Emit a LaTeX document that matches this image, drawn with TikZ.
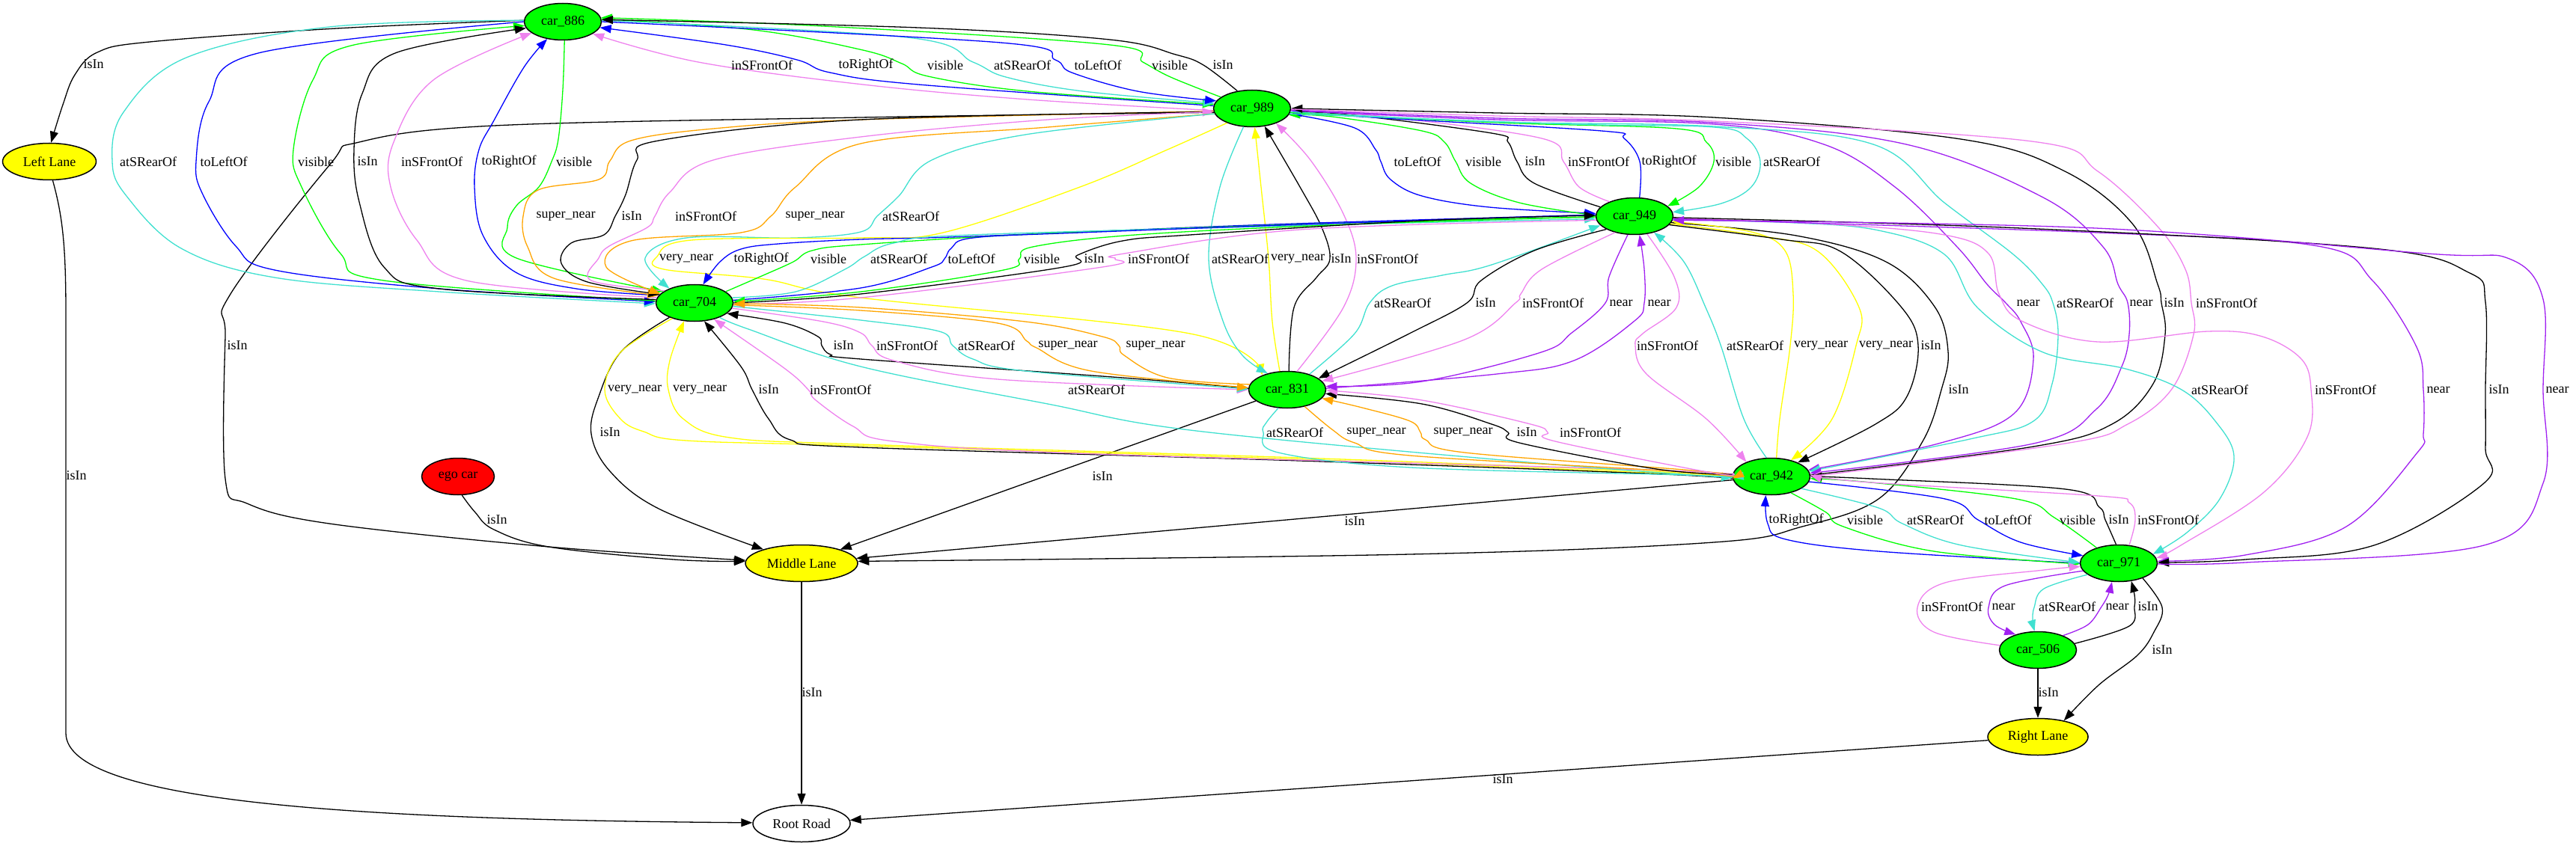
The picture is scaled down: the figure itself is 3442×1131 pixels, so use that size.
\documentclass[tikz,border=0pt]{standalone}
\usepackage{fontspec}
\setmainfont{Liberation Serif}
\usetikzlibrary{arrows.meta,shapes.geometric}
\definecolor{cG}{HTML}{00FF00}
\definecolor{cV}{HTML}{EE82EE}
\definecolor{cT}{HTML}{40E0D0}
\definecolor{cB}{HTML}{0000FF}
\definecolor{cO}{HTML}{FFA500}
\definecolor{cY}{HTML}{FFFF00}
\definecolor{cP}{HTML}{A020F0}
\definecolor{cR}{HTML}{FF0000}
\newcommand\lblfont{\fontsize{18}{20}\selectfont}
\newcommand\myedge[2]{\draw[ed,#1] plot[smooth,tension=0.6] coordinates {#2};}
\newcommand\mylab[3]{\node[lb] (#1) at (#2) {#3};}
\tikzset{
  basenode/.style={ellipse, draw=black, line width=1.5pt, inner sep=0pt, minimum height=49pt, font=\lblfont},
  car/.style={basenode, fill=cG, minimum width=103pt},
  lane/.style={basenode, fill=cY},
  ed/.style={line width=1.3pt, -{Triangle[length=15pt,width=11pt]}},
  lb/.style={font=\lblfont, inner sep=0pt, text=black}
}
\begin{document}
\begin{tikzpicture}[x=1pt,y=-1pt]
\useasboundingbox (0,0) rectangle (3442,1131);
% nodes
\node[car] (n886) at (752,29) {car\_886};
\node[car] (n989) at (1673,145) {car\_989};
\node[car] (n949) at (2184,289) {car\_949};
\node[car] (n704) at (928,405) {car\_704};
\node[car] (n831) at (1720,521) {car\_831};
\node[car] (n942) at (2367,637) {car\_942};
\node[car] (n971) at (2831,753) {car\_971};
\node[car] (n506) at (2723,869) {car\_506};
\node[lane, minimum width=125pt] (nLL) at (66,216) {Left Lane};
\node[lane, minimum width=150pt] (nML) at (1071,753) {Middle Lane};
\node[lane, minimum width=134pt] (nRL) at (2723,985) {Right Lane};
\node[basenode, fill=white, minimum width=130pt] (nRR) at (1071,1101) {Root Road};
\node[basenode, fill=cR, minimum width=97pt] (nego) at (612,637) {ego car};

% lanes and road
\myedge{black}{(n886.178) (450,38) (200,56) (130,70) (100,100) (84,140) (nLL.85)}
\draw[ed,black] (nLL.-80) .. controls (84,290) and (88,330) .. (88,420) -- (88,980) .. controls (88,1075) and (500,1096) .. (nRR.179);
\myedge{black}{(n989.186) (1150,157) (660,168) (480,190) (440,221) (308,393) (301,450) (301,640) (330,673) (440,700) (733,731) (nML.177)}
\myedge{black}{(nego.-78) (635,685) (660,708) (733,731) (900,748) (nML.178)}
\draw[ed,black] (nML) -- (nRR);
\draw[ed,black] (nRL) -- (nRR);
\myedge{black}{(n704.210) (830,470) (800,530) (790,580) (815,630) (880,680) (nML.160)}
\draw[ed,black] (n831) -- (nML);
\draw[ed,black] (n942) -- (nML);
\myedge{black}{(n949.-10) (2400,315) (2520,350) (2585,410) (2603,470) (2594,521) (2569,590) (2510,667) (2408,704) (2290,725) (1884,741) (nML.2)}
\myedge{black}{(n971.-32) (2889,812) (2878,845) (2856,876) (2804,916) (nRL.32)}
\draw[ed,black] (n506) -- (nRL);

% 886 <-> 989
\myedge{cV}{(n989.183) (1373,133) (1153,113) (933,83) (n886.-22)}
\myedge{cB}{(n989.176) (1227,113) (1109,97) (1065,80) (970,60) (n886.-9)}
\myedge{cG}{(n886.4) (1007,40) (1153,67) (1205,85) (1240,102) (1373,122) (n989.174)}
\myedge{cT}{(n886.2) (1212,50) (1300,83) (1344,103) (1447,122) (n989.172)}
\myedge{cB}{(n886.0) (1337,57) (1410,80) (1432,97) (1520,122) (n989.168)}
\myedge{cG}{(n989.160) (1564,103) (1527,83) (1483,60) (1100,35) (n886.6)}
\myedge{black}{(n989.130) (1608,87) (1571,73) (1483,53) (1227,37) (n886.3)}

% 886 <-> 704
\myedge{cT}{(n886.178) (440,36) (249,77) (165,150) (150,216) (169,262) (242,332) (367,371) (587,390) (n704.181)}
\myedge{cB}{(n886.180) (345,71) (279,136) (262,216) (271,260) (315,329) (367,361) (587,386) (n704.178)}
\myedge{cG}{(n704.177) (513,375) (455,339) (403,250) (392,200) (418,107) (469,61) (n886.186)}
\myedge{black}{(n704.175) (587,386) (513,357) (480,270) (473,200) (484,125) (528,71) (n886.190)}
\myedge{cV}{(n704.172) (623,375) (557,321) (522,250) (526,190) (579,107) (n886.200)}
\myedge{cB}{(n704.168) (770,386) (689,364) (645,314) (634,250) (640,200) (660,161) (700,90) (n886.228)}
\myedge{cG}{(n886.-85) (752,120) (746,186) (737,216) (720,250) (690,275) (678,304) (690,345) (n704.160)}

% 989 <-> 949
\myedge{cB}{(n989.-8) (1810,171) (1838,200) (1845,216) (1858,240) (1900,262) (1990,277) (n949.176)}
\myedge{cG}{(n949.179) (2030,271) (1965,245) (1945,216) (1930,190) (1900,175) (1780,156) (n989.-10)}
\myedge{black}{(n949.165) (2050,245) (2027,216) (2015,190) (1993,178) (1800,153) (n989.-6)}
\myedge{cV}{(n949.150) (2110,250) (2089,216) (2060,185) (1850,156) (n989.-3)}
\myedge{cB}{(n949.75) (2191,216) (2170,185) (2140,175) (1850,158) (n989.-5)}
\myedge{cG}{(n989.-6) (2000,164) (2240,172) (2280,190) (2290,216) (2270,250) (n949.17)}
\myedge{cT}{(n989.-8) (2100,166) (2290,170) (2334,185) (2352,216) (2340,250) (2300,272) (n949.6)}

% 989 <-> 704
\myedge{cO}{(n989.184) (1150,160) (953,172) (843,188) (815,215) (800,240) (719,254) (699,289) (705,330) (740,372) (n704.168)}
\myedge{black}{(n989.185) (1150,160) (880,188) (851,214) (836,260) (822,289) (807,314) (763,325) (750,352) (785,377) (n704.166)}
\myedge{cV}{(n704.158) (790,375) (800,345) (814,329) (865,304) (875,289) (895,257) (953,214) (1150,183) (1400,160) (n989.185)}
\myedge{cO}{(n989.188) (1400,170) (1150,192) (1063,250) (1030,289) (990,311) (843,322) (810,357) (n704.165)}
\myedge{cT}{(n989.188) (1370,180) (1245,214) (1201,262) (1172,289) (1150,310) (1063,318) (917,318) (862,345) (n704.150)}
\myedge{cY}{(n989.210) (1560,200) (1443,250) (1260,311) (1150,318) (924,321) (878,343) (887,360) (1020,373) (1150,398) (1590,446) (n831.150)}

% 989 <-> 831
\myedge{cT}{(n989.245) (1630,250) (1615,346) (1634,429) (1660,475) (n831.140)}
\myedge{cY}{(n831.112) (1700,430) (1695,346) (1685,250) (n989.-82)}
\myedge{black}{(n831.85) (1729,411) (1759,371) (1777,346) (1766,304) (1737,250) (n989.-55)}
\myedge{cV}{(n831.62) (1795,411) (1812,346) (1795,286) (1751,214) (n989.-32)}

% 704 <-> 949
\myedge{cB}{(n949.178) (1700,300) (1300,316) (1150,320) (1040,326) (990,333) (962,350) (n704.65)}
\myedge{cG}{(n704.20) (1020,368) (1060,350) (1085,335) (1150,327) (1400,312) (1800,298) (n949.181)}
\myedge{cT}{(n704.8) (1063,390) (1129,360) (1155,343) (1194,325) (1297,314) (1800,300) (n949.184)}
\myedge{cB}{(n704.4) (1150,385) (1245,357) (1262,346) (1271,332) (1300,318) (1443,311) (1800,298) (n949.178)}
\myedge{cG}{(n949.181) (1800,300) (1517,314) (1380,330) (1362,346) (1341,361) (1150,390) (n704.2)}
\myedge{black}{(n704.0) (1150,393) (1421,357) (1440,341) (1500,322) (1590,314) (1900,295) (n949.179)}
\myedge{cV}{(n949.186) (1737,307) (1502,339) (1490,346) (1473,357) (1150,398) (n704.-2)}

% 704 <-> 831
\myedge{black}{(n831.178) (1500,505) (1150,480) (1110,474) (1098,462) (1093,450) (1049,432) (n704.-18)}
\myedge{cV}{(n704.-8) (1100,430) (1150,445) (1165,462) (1194,482) (1333,507) (n831.180)}
\myedge{cT}{(n704.-5) (1150,428) (1255,443) (1273,462) (1300,480) (1370,496) (n831.179)}
\myedge{cO}{(n704.-3) (1150,415) (1333,432) (1372,456) (1385,465) (1458,496) (n831.177)}
\myedge{cO}{(n831.172) (1560,505) (1502,475) (1495,462) (1473,450) (1370,430) (1150,411) (n704.-1)}

% 704 <-> 942
\myedge{cY}{(n704.215) (829,471) (808,521) (829,560) (860,577) (917,589) (1150,596) (1737,614) (2200,632) (n942.182)}
\myedge{cY}{(n942.181) (2200,630) (1737,612) (1150,594) (975,585) (913,560) (893,521) (895,482) (n704.240)}
\myedge{black}{(n942.183) (2200,633) (1737,616) (1150,598) (1056,588) (1027,560) (1005,521) (990,490) (n704.-62)}
\myedge{cV}{(n942.178) (2200,628) (1440,606) (1194,590) (1140,570) (1090,535) (1080,521) (1049,493) (n704.-40)}
\myedge{cT}{(n704.-30) (1000,440) (1150,490) (1400,540) (1590,575) (2030,617) (n942.182)}

% 831 <-> 942
\myedge{cT}{(n831.244) (1692,565) (1688,578) (1708,605) (1885,625) (2250,635) (n942.181)}
\myedge{cO}{(n831.-44) (1781,575) (1810,592) (1884,609) (2250,631) (n942.183)}
\myedge{cO}{(n942.178) (2250,628) (1957,605) (1905,588) (1898,578) (1884,563) (1820,545) (n831.-14)}
\myedge{black}{(n942.177) (2213,627) (2030,592) (2015,578) (1993,567) (1900,540) (n831.-6)}
\myedge{cV}{(n942.175) (2287,632) (2078,590) (2068,578) (2045,567) (1900,535) (n831.-1)}

% 831 <-> 949
\myedge{cT}{(n831.35) (1810,446) (1830,405) (1860,382) (1927,368) (1993,354) (n949.195)}
\myedge{black}{(n949.205) (2050,335) (1979,375) (1960,405) (1883,446) (n831.20)}
\myedge{cV}{(n949.220) (2060,360) (2032,393) (2025,405) (1957,454) (n831.14)}
\myedge{cP}{(n949.250) (2150,370) (2145,405) (2100,445) (2059,471) (1900,510) (n831.5)}
\myedge{cP}{(n831.2) (2000,500) (2103,482) (2184,429) (2197,405) (2197,360) (n949.-75)}

% 949 <-> 942
\myedge{cT}{(n942.105) (2330,560) (2300,464) (2279,411) (2250,350) (n949.-40)}
\myedge{cY}{(n942.75) (2378,560) (2392,462) (2396,393) (2385,335) (2340,310) (n949.-8)}
\myedge{cY}{(n949.-12) (2350,315) (2429,336) (2484,411) (2480,462) (2448,560) (n942.40)}
\myedge{black}{(n949.-14) (2380,320) (2459,336) (2540,410) (2563,462) (2548,530) (2506,567) (n942.28)}
\myedge{cV}{(n949.-55) (2237,370) (2240,411) (2195,446) (2185,462) (2200,500) (2280,560) (n942.150)}

% 989 <-> 942
\myedge{cP}{(n989.-3) (2000,160) (2290,166) (2437,193) (2532,250) (2615,330) (2655,380) (2680,405) (2700,430) (2717,480) (2691,553) (2590,593) (n942.10)}
\myedge{cT}{(n989.-5) (2000,163) (2290,169) (2503,193) (2598,271) (2690,340) (2729,380) (2743,405) (2750,447) (2742,513) (2717,563) (2632,587) (n942.8)}
\myedge{cP}{(n989.-2) (2000,158) (2290,164) (2547,193) (2730,264) (2810,330) (2830,380) (2843,405) (2845,447) (2835,490) (2801,547) (2717,593) (n942.5)}
\myedge{black}{(n942.2) (2717,597) (2822,567) (2877,513) (2893,447) (2888,405) (2883,380) (2850,300) (2759,229) (2620,186) (2290,157) (2000,151) (n989.0)}
\myedge{cV}{(n989.-1) (2000,155) (2290,162) (2715,189) (2803,229) (2884,304) (2920,360) (2928,405) (2931,447) (2902,520) (2843,567) (2759,593) (n942.0)}

% 949 <-> 971
\myedge{cT}{(n949.-5) (2400,298) (2510,308) (2598,340) (2642,411) (2730,471) (2840,493) (2915,521) (2960,563) (2985,610) (2966,667) (2922,712) (n971.15)}
\myedge{cV}{(n949.-3) (2450,300) (2598,314) (2657,339) (2671,393) (2701,429) (2803,457) (2950,443) (3023,450) (3075,480) (3088,521) (3083,584) (3025,658) (2914,729) (n971.8)}
\myedge{cP}{(n949.-4) (2803,311) (3097,329) (3170,375) (3229,464) (3238,521) (3238,580) (3230,605) (3135,704) (3000,742) (n971.3)}
\myedge{black}{(n949.-2) (2700,305) (3170,332) (3300,365) (3321,404) (3321,521) (3321,600) (3319,646) (3172,729) (3000,748) (n971.1)}
\myedge{cP}{(n971.-1) (3000,752) (3319,729) (3398,646) (3398,521) (3398,400) (3353,346) (3243,339) (2800,305) (n949.-6)}

% 942 <-> 971
\myedge{cB}{(n971.180) (2510,737) (2386,721) (2362,700) (n942.253)}
\myedge{cG}{(n942.-40) (2440,685) (2463,704) (2584,737) (n971.181)}
\myedge{cT}{(n942.-22) (2510,679) (2542,700) (2621,729) (n971.179)}
\myedge{cB}{(n942.-8) (2599,667) (2643,695) (2700,725) (n971.168)}
\myedge{cG}{(n971.145) (2745,692) (2694,667) (2500,645) (n942.-3)}
\myedge{black}{(n971.98) (2813,695) (2805,678) (2760,654) (2500,640) (n942.0)}
\myedge{cV}{(n971.60) (2853,695) (2845,672) (2804,663) (2500,645) (n942.2)}

% 971 <-> 506
\myedge{cV}{(n506.173) (2584,845) (2562,812) (2599,779) (2731,762) (n971.185)}
\myedge{cP}{(n971.192) (2679,783) (2657,812) (2665,835) (n506.145)}
\myedge{cT}{(n971.200) (2731,787) (2718,812) (2716,830) (n506.100)}
\myedge{cP}{(n506.30) (2790,835) (2808,811) (2817,795) (n971.-110)}
\myedge{black}{(n506.10) (2845,837) (2852,811) (2852,795) (n971.-55)}

% labels
\mylab{l01}{125,86}{isIn}
\mylab{l02}{102,636}{isIn}
\mylab{l03}{317,462}{isIn}
\mylab{l04}{664,695}{isIn}
\mylab{l05}{1085,926}{isIn}
\mylab{l06}{2008,1042}{isIn}
\mylab{l07}{815,578}{isIn}
\mylab{l08}{1473,637}{isIn}
\mylab{l09}{1810,697}{isIn}
\mylab{l10}{2617,521}{isIn}
\mylab{l11}{2889,869}{isIn}
\mylab{l12}{2737,926}{isIn}
% 886-989
\mylab{a1}{1018,87}{inSFrontOf}
\mylab{a2}{1157,87}{toRightOf}
\mylab{a3}{1263,87}{visible}
\mylab{a4}{1366,87}{atSRearOf}
\mylab{a5}{1467,87}{toLeftOf}
\mylab{a6}{1563,87}{visible}
\mylab{a7}{1634,87}{isIn}
% 886-704
\mylab{b1}{198,216}{atSRearOf}
\mylab{b2}{299,216}{toLeftOf}
\mylab{b3}{422,216}{visible}
\mylab{b4}{491,216}{isIn}
\mylab{b5}{577,216}{inSFrontOf}
\mylab{b6}{680,216}{toRightOf}
\mylab{b7}{767,216}{visible}
% 989-949
\mylab{c1}{1894,216}{toLeftOf}
\mylab{c2}{1982,216}{visible}
\mylab{c3}{2051,216}{isIn}
\mylab{c4}{2136,216}{inSFrontOf}
\mylab{c5}{2230,216}{toRightOf}
\mylab{c6}{2316,216}{visible}
\mylab{c7}{2394,216}{atSRearOf}
% 989-704
\mylab{d1}{756,289}{super\_near}
\mylab{d2}{844,289}{isIn}
\mylab{d3}{943,289}{inSFrontOf}
\mylab{d4}{1089,289}{super\_near}
\mylab{d5}{1217,289}{atSRearOf}
\mylab{d6}{917,346}{very\_near}
% 989-831
\mylab{e1}{1657,346}{atSRearOf}
\mylab{e2}{1734,346}{very\_near}
\mylab{e3}{1792,346}{isIn}
\mylab{e4}{1854,346}{inSFrontOf}
% 704-949
\mylab{f1}{1017,346}{toRightOf}
\mylab{f2}{1107,346}{visible}
\mylab{f3}{1201,346}{atSRearOf}
\mylab{f4}{1298,346}{toLeftOf}
\mylab{f5}{1392,346}{visible}
\mylab{f6}{1462,346}{isIn}
\mylab{f7}{1548,346}{inSFrontOf}
% 704-831
\mylab{g1}{1127,462}{isIn}
\mylab{g2}{1212,462}{inSFrontOf}
\mylab{g3}{1318,462}{atSRearOf}
\mylab{g4}{1427,462}{super\_near}
\mylab{g5}{1544,462}{super\_near}
% 704-942
\mylab{h1}{848,521}{very\_near}
\mylab{h2}{935,521}{very\_near}
\mylab{h3}{1027,521}{isIn}
\mylab{h4}{1123,521}{inSFrontOf}
\mylab{h5}{1465,521}{atSRearOf}
% 831-942
\mylab{i1}{1730,578}{atSRearOf}
\mylab{i2}{1839,578}{super\_near}
\mylab{i3}{1955,578}{super\_near}
\mylab{i4}{2040,578}{isIn}
\mylab{i5}{2125,578}{inSFrontOf}
% 831-949
\mylab{j1}{1874,405}{atSRearOf}
\mylab{j2}{1985,405}{isIn}
\mylab{j3}{2075,405}{inSFrontOf}
\mylab{j4}{2166,405}{near}
\mylab{j5}{2217,405}{near}
% 949-942
\mylab{k1}{2345,462}{atSRearOf}
\mylab{k2}{2433,462}{very\_near}
\mylab{k3}{2520,462}{very\_near}
\mylab{k4}{2580,462}{isIn}
\mylab{k5}{2228,462}{inSFrontOf}
% 989-942
\mylab{m1}{2710,405}{near}
\mylab{m2}{2786,405}{atSRearOf}
\mylab{m3}{2861,405}{near}
\mylab{m4}{2905,405}{isIn}
\mylab{m5}{2975,405}{inSFrontOf}
% 949-971
\mylab{p1}{2966,521}{atSRearOf}
\mylab{p2}{3134,521}{inSFrontOf}
\mylab{p3}{3258,521}{near}
\mylab{p4}{3339,521}{isIn}
\mylab{p5}{3417,521}{near}
% 942-971
\mylab{q1}{2400,695}{toRightOf}
\mylab{q2}{2492,695}{visible}
\mylab{q3}{2586,695}{atSRearOf}
\mylab{q4}{2683,695}{toLeftOf}
\mylab{q5}{2776,695}{visible}
\mylab{q6}{2831,695}{isIn}
\mylab{q7}{2897,695}{inSFrontOf}
% 971-506
\mylab{r1}{2608,811}{inSFrontOf}
\mylab{r2}{2677,811}{near}
\mylab{r3}{2762,811}{atSRearOf}
\mylab{r4}{2829,811}{near}
\mylab{r5}{2870,811}{isIn}
\end{tikzpicture}
\end{document}
